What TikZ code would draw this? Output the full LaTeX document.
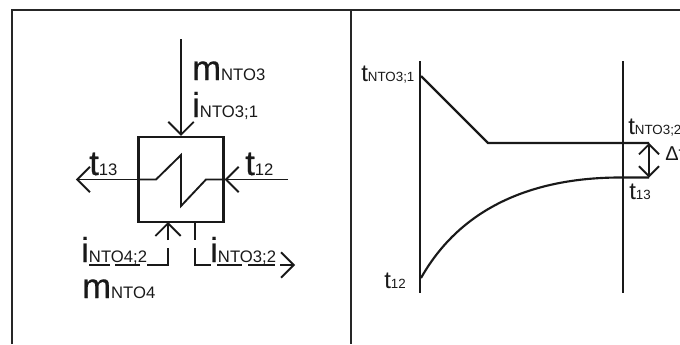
\documentclass[tikz,border=0pt]{standalone}
\usepackage{fontspec}
\setmainfont{Liberation Sans}
\newfontfamily\heavyfont[AutoFakeBold=0.6]{Liberation Sans}
\usetikzlibrary{arrows.meta}
\pgfdeclarearrow{
  name=VBarb,
  parameters={\the\pgfarrowlength},
  setup code={
    \pgfarrowssettipend{0.7\pgflinewidth}
    \pgfarrowssetlineend{-0.5\pgflinewidth}
    \pgfarrowssetvisualbackend{-0.5\pgflinewidth}
    \pgfarrowssetbackend{-\pgfarrowlength}
    \pgfarrowshullpoint{0pt}{0pt}
    \pgfarrowshullpoint{-\pgfarrowlength}{\pgfarrowlength}
    \pgfarrowshullpoint{-\pgfarrowlength}{-\pgfarrowlength}
    \pgfarrowssavethe\pgfarrowlength
  },
  drawing code={
    \pgfsetdash{}{0pt}
    \pgfsetmiterjoin
    \pgfpathmoveto{\pgfqpoint{-\pgfarrowlength}{\pgfarrowlength}}
    \pgfpathlineto{\pgfqpoint{0pt}{0pt}}
    \pgfpathlineto{\pgfqpoint{-\pgfarrowlength}{-\pgfarrowlength}}
    \pgfusepathqstroke
  },
  defaults={length=9.5pt}
}
\newcommand{\bigsub}[2]{{\fontsize{26}{26}\heavyfont\bfseries #1}{\fontsize{12.5}{12.5}\selectfont #2}}
\newcommand{\medsub}[2]{{\fontsize{18}{18}\selectfont #1}{\fontsize{10}{10}\selectfont #2}}
\tikzset{
  frameline/.style={line width=2.2pt,black!85},
  pipe/.style={line width=1.4pt,black!90},
  openhead/.style={-{VBarb[length=9.5pt]}},
  dblhead/.style={{VBarb[length=7.5pt]}-{VBarb[length=7.5pt]}},
  lab/.style={inner sep=0pt,anchor=base west,text=black!90}
}
\begin{document}
\begin{tikzpicture}[x=0.75pt,y=-0.75pt]
\useasboundingbox (0,0) rectangle (680,344);
\clip (0,0) rectangle (680,344);
% frame
\coordinate (fa) at (12,344);
\coordinate (fb) at (12,10);
\coordinate (fc) at (680,10);
\coordinate (fd) at (351,10);
\coordinate (fe) at (351,344);
\draw[frameline] (fa) -- (fb) -- (fc);
\draw[frameline] (fd) -- (fe);
% exchanger
\node[draw=black!90,line width=1.7pt,minimum width=63.75pt,minimum height=63.75pt,inner sep=0pt] (hx) at (181,179.5) {};
\coordinate (topin) at (181,39);
\coordinate (leftout) at (76,179.5);
\coordinate (rightin) at (288,179.5);
\draw[pipe,openhead] (topin) -- (hx.north);
\draw[pipe,openhead] (hx.west) -- (leftout);
\draw[pipe,openhead] (rightin) -- (hx.east);
\draw[pipe,line join=miter] (hx.west) -- (156,179.5) -- (181,155) -- (181,206) -- (206,179.5) -- (hx.east);
% bottom left stream
\coordinate (bl1) at (168,265);
\coordinate (bl2) at (168,240);
\coordinate (bl3) at (168,222);
\draw[pipe,openhead] (bl2) -- (bl3);
\draw[pipe] (168,248) -- (bl1) -- (147,265);
\draw[pipe] (140,265) -- (115,265);
\draw[pipe] (110,265) -- (89,265);
% bottom right stream
\draw[pipe] (195,223) -- (195,240);
\draw[pipe] (195,248) -- (195,265) -- (211,265);
\draw[pipe] (217,265) -- (242,265);
\draw[pipe] (248,265) -- (275,265);
\coordinate (brtip) at (295,265);
\draw[pipe,openhead] (280,265) -- (brtip);
% labels left
\node[lab] (mn3) at (192,80) {\bigsub{m}{NTO3}};
\node[lab] (in31) at (192,117) {\bigsub{i}{NTO3;1}};
\node[lab] (t13) at (89,175) {\bigsub{t}{13}};
\node[lab] (t12) at (245,175) {\bigsub{t}{12}};
\node[lab] (in42) at (81,262) {\bigsub{i}{NTO4;2}};
\node[lab] (in32) at (210,262) {\bigsub{i}{NTO3;2}};
\node[lab] (mn4) at (82,298) {\bigsub{m}{NTO4}};
% right diagram
\coordinate (v1a) at (420,61);
\coordinate (v1b) at (420,293);
\coordinate (v2a) at (623,61);
\coordinate (v2b) at (623,293);
\draw[pipe,line width=1.7pt] (v1a) -- (v1b);
\draw[pipe,line width=1.7pt] (v2a) -- (v2b);
\coordinate (hot1) at (421,76);
\coordinate (hot2) at (488,143);
\coordinate (hot3) at (649,143);
\coordinate (cold1) at (421,278);
\coordinate (cold2) at (623,177.5);
\coordinate (cold3) at (649,177.5);
\draw[pipe,line width=1.6pt] (hot1) -- (hot2) -- (hot3);
\draw[pipe,line width=1.6pt] (cold1) .. controls (465,200) and (545,177) .. (cold2) -- (cold3);
\draw[pipe,dblhead] (hot3) -- (cold3);
\node[lab] (tn31) at (361,81) {\medsub{t}{NTO3;1}};
\node[lab] (tn32) at (628,134) {\medsub{t}{NTO3;2}};
\node[lab] (t13b) at (629,199) {\medsub{t}{13}};
\node[lab] (t12b) at (384,288) {\medsub{t}{12}};
\node[lab] (dt) at (665,160) {\fontsize{15}{15}\selectfont Δt};
\end{tikzpicture}
\end{document}
